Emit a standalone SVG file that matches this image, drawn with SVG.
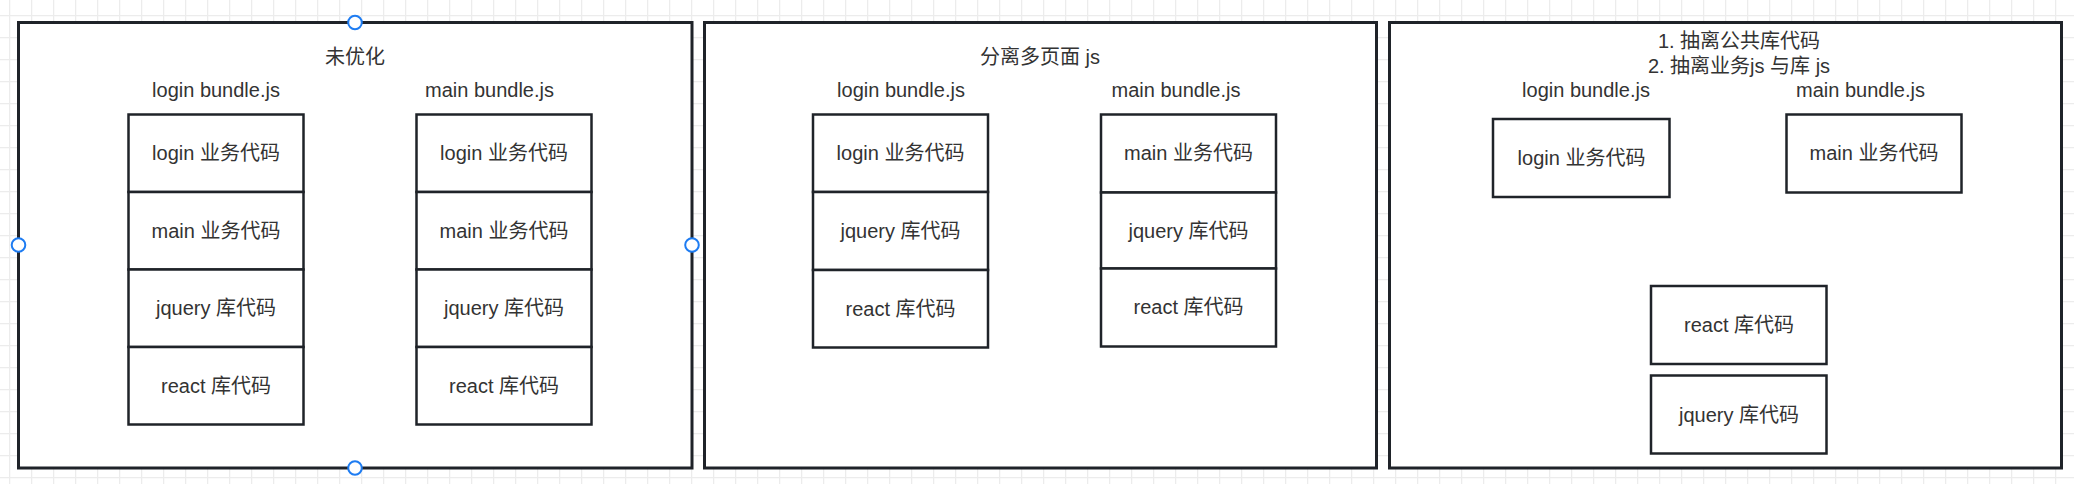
<svg xmlns="http://www.w3.org/2000/svg" width="2074" height="484" viewBox="0 0 2074 484">
  <defs>
    <pattern id="grid" x="9" y="15" width="22" height="22" patternUnits="userSpaceOnUse">
      <path d="M0 0.5 H22 M0.5 0 V22" fill="none" stroke="#ececec" stroke-width="1.5"/>
    </pattern>
    <style>
      .panel { fill: #ffffff; stroke: #1f2329; stroke-width: 3; }
      .box { fill: #ffffff; stroke: #1f2329; stroke-width: 2.5; }
      .t { font-family: "Liberation Sans", "Noto Sans CJK SC", sans-serif; font-size: 20px; fill: #333333; text-anchor: middle; }
      .handle { fill: #ffffff; stroke: #1e7cf2; stroke-width: 2; }
    </style>
  </defs>
  <rect x="0" y="0" width="2074" height="484" fill="#ffffff"/>
  <rect x="0" y="0" width="2074" height="484" fill="url(#grid)"/>

  <!-- Panel 1 -->
  <g id="panel-unoptimized">
    <rect class="panel" x="18.5" y="22.5" width="673.5" height="445.5"/>
    <text class="t" x="355" y="64">未优化</text>
    <text class="t" x="216" y="97">login bundle.js</text>
    <text class="t" x="489.5" y="97">main bundle.js</text>
  </g>
  <g id="p1-login-login"><rect class="box" x="128.5" y="114.5" width="175" height="77.5"/><text class="t" x="216" y="160">login 业务代码</text></g>
  <g id="p1-login-main"><rect class="box" x="128.5" y="192" width="175" height="77.5"/><text class="t" x="216" y="237.5">main 业务代码</text></g>
  <g id="p1-login-jquery"><rect class="box" x="128.5" y="269.5" width="175" height="77.5"/><text class="t" x="216" y="315">jquery 库代码</text></g>
  <g id="p1-login-react"><rect class="box" x="128.5" y="347" width="175" height="77.5"/><text class="t" x="216" y="392.5">react 库代码</text></g>

  <g id="p1-main-login"><rect class="box" x="416.5" y="114.5" width="175" height="77.5"/><text class="t" x="504" y="160">login 业务代码</text></g>
  <g id="p1-main-main"><rect class="box" x="416.5" y="192" width="175" height="77.5"/><text class="t" x="504" y="237.5">main 业务代码</text></g>
  <g id="p1-main-jquery"><rect class="box" x="416.5" y="269.5" width="175" height="77.5"/><text class="t" x="504" y="315">jquery 库代码</text></g>
  <g id="p1-main-react"><rect class="box" x="416.5" y="347" width="175" height="77.5"/><text class="t" x="504" y="392.5">react 库代码</text></g>

  <!-- Panel 2 -->
  <g id="panel-split">
    <rect class="panel" x="704.5" y="22.5" width="672" height="445.5"/>
    <text class="t" x="1040" y="64">分离多页面 js</text>
    <text class="t" x="901" y="97">login bundle.js</text>
    <text class="t" x="1176" y="97">main bundle.js</text>
  </g>
  <g id="p2-login-login"><rect class="box" x="813" y="114.5" width="175" height="77.5"/><text class="t" x="900.5" y="160">login 业务代码</text></g>
  <g id="p2-login-jquery"><rect class="box" x="813" y="192" width="175" height="78"/><text class="t" x="900.5" y="238">jquery 库代码</text></g>
  <g id="p2-login-react"><rect class="box" x="813" y="270" width="175" height="77.5"/><text class="t" x="900.5" y="315.5">react 库代码</text></g>

  <g id="p2-main-main"><rect class="box" x="1101" y="114.5" width="175" height="78"/><text class="t" x="1188.5" y="160">main 业务代码</text></g>
  <g id="p2-main-jquery"><rect class="box" x="1101" y="192.5" width="175" height="76"/><text class="t" x="1188.5" y="238">jquery 库代码</text></g>
  <g id="p2-main-react"><rect class="box" x="1101" y="268.5" width="175" height="78"/><text class="t" x="1188.5" y="314">react 库代码</text></g>

  <!-- Panel 3 -->
  <g id="panel-extract">
    <rect class="panel" x="1389.5" y="22.5" width="672" height="445.5"/>
    <text class="t" x="1739" y="47.5">1. 抽离公共库代码</text>
    <text class="t" x="1739" y="72.5">2. 抽离业务js 与库 js</text>
    <text class="t" x="1586" y="97">login bundle.js</text>
    <text class="t" x="1860.5" y="97">main bundle.js</text>
  </g>
  <g id="p3-login"><rect class="box" x="1493" y="119" width="176.5" height="78"/><text class="t" x="1581.5" y="165">login 业务代码</text></g>
  <g id="p3-main"><rect class="box" x="1786.5" y="114.5" width="175" height="78"/><text class="t" x="1874" y="160">main 业务代码</text></g>
  <g id="p3-react"><rect class="box" x="1651" y="286" width="175.5" height="78"/><text class="t" x="1739" y="332">react 库代码</text></g>
  <g id="p3-jquery"><rect class="box" x="1651" y="375.5" width="175.5" height="78"/><text class="t" x="1739" y="421.5">jquery 库代码</text></g>

  <g id="connectors"></g>

  <!-- selection handles on panel 1 -->
  <g id="selection-handles">
    <circle class="handle" cx="355" cy="22.5" r="6.8"/>
    <circle class="handle" cx="18.5" cy="245" r="6.8"/>
    <circle class="handle" cx="692" cy="245" r="6.8"/>
    <circle class="handle" cx="355" cy="468" r="6.8"/>
  </g>
</svg>
